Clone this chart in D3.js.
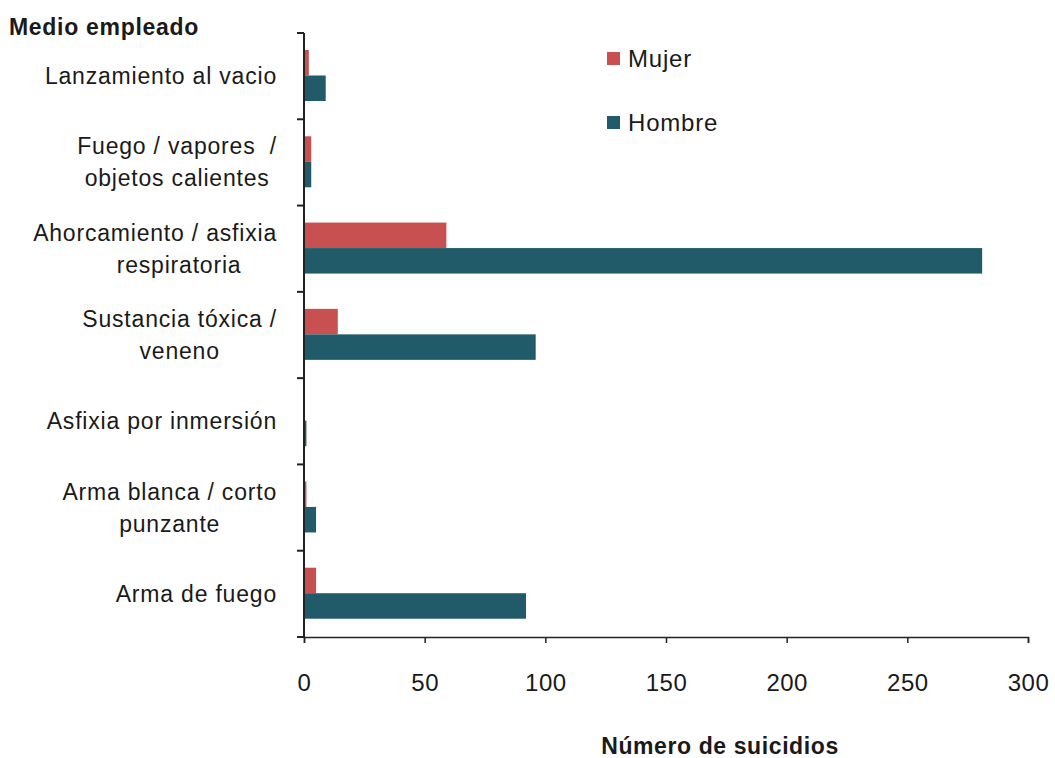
<!DOCTYPE html>
<html><head><meta charset="utf-8">
<script src="https://cdn.jsdelivr.net/npm/d3@7"></script>
<style>body{margin:0;background:#fff}text{font-family:"Liberation Sans",Arial,sans-serif;fill:#1a1a1a}</style>
</head><body><svg id="c" width="1055" height="758"></svg>
<script>
const categories = [
  ["Lanzamiento al vacio"],
  ["Fuego / vapores  /", "objetos calientes"],
  ["Ahorcamiento / asfixia", "respiratoria"],
  ["Sustancia tóxica /", "veneno"],
  ["Asfixia por inmersión"],
  ["Arma blanca / corto", "punzante"],
  ["Arma de fuego"]
];
const series = ["Mujer", "Hombre"];
const mujer = [2, 3, 59, 14, 0, 1, 5];
const hombre = [9, 3, 281, 96, 1, 5, 92];
const xTicks = [0, 50, 100, 150, 200, 250, 300];
const colors = ["#c85050", "#215a69"];

(function(){
const svg = d3.select("#c");
const mLeft = 304, mRight = 1028, mTop = 33, mBottom = 637;
const x = d3.scaleLinear().domain([0, 300]).range([mLeft, mRight]);
const y = d3.scaleBand().domain(d3.range(categories.length)).range([mTop, mBottom]);
const inner = d3.scaleBand().domain(series).range([17, 17 + 51]);

const vals = [mujer, hombre];
const g = svg.append("g");
categories.forEach((c, i) => {
  series.forEach((s, k) => {
    g.append("rect")
      .attr("x", x(0))
      .attr("y", y(i) + inner(s))
      .attr("width", x(vals[k][i]) - x(0))
      .attr("height", inner.bandwidth())
      .attr("fill", colors[k]);
  });
});

// x axis
const xa = svg.append("g").attr("transform", `translate(0,${mBottom})`)
  .call(d3.axisBottom(x).tickValues(xTicks).tickSize(6).tickPadding(31));
xa.select(".domain").attr("stroke", "#222").attr("stroke-width", 1.5);
xa.selectAll(".tick line").attr("stroke", "#222").attr("stroke-width", 1.5);
xa.selectAll(".tick text").attr("font-size", 24).attr("letter-spacing", 0.5)
  .style("font-family", "Liberation Sans, Arial, sans-serif").attr("fill", "#1a1a1a");

// y axis line & ticks at band boundaries
svg.append("line").attr("x1", mLeft).attr("x2", mLeft).attr("y1", mTop).attr("y2", mBottom)
  .attr("stroke", "#222").attr("stroke-width", 2);
d3.range(categories.length + 1).forEach(i => {
  const yy = i < categories.length ? y(i) : mBottom;
  svg.append("line").attr("x1", mLeft - 7).attr("x2", mLeft).attr("y1", yy).attr("y2", yy)
    .attr("stroke", "#222").attr("stroke-width", 2);
});

// category labels
const lineH = 32;
const fs = 23, ls = 0.8;
const extraDx = [0, 0, 24, 0, 0, 0, 0];
categories.forEach((lines, i) => {
  const cy = y(i) + y.bandwidth() / 2;
  const n = lines.length;
  const t1 = svg.append("text").attr("x", 277).attr("y", cy - (n - 1) * lineH / 2 + 8)
    .attr("text-anchor", "end").attr("font-size", fs).attr("letter-spacing", ls)
    .style("white-space", "pre").text(lines[0]);
  if (n > 1) {
    const w = t1.node().getComputedTextLength();
    const cx = 277 - w / 2 + extraDx[i];
    svg.append("text").attr("x", cx).attr("y", cy + lineH / 2 + 8)
      .attr("text-anchor", "middle").attr("font-size", fs).attr("letter-spacing", ls).text(lines[1]);
  }
});

// titles
svg.append("text").attr("x", 9).attr("y", 35).attr("font-size", 23).attr("font-weight", "bold")
  .attr("letter-spacing", 0.7).text("Medio empleado");
svg.append("text").attr("x", 720).attr("y", 754).attr("text-anchor", "middle").attr("font-size", 23)
  .attr("font-weight", "bold").attr("letter-spacing", 0.6).text("Número de suicidios");

// legend
series.forEach((s, k) => {
  const ly = 52 + k * 64;
  svg.append("rect").attr("x", 607).attr("y", ly).attr("width", 13).attr("height", 13).attr("fill", colors[k]);
  svg.append("text").attr("x", 628).attr("y", ly + 15).attr("font-size", 24).attr("letter-spacing", 0.8).text(s);
});
})();
</script></body></html>
